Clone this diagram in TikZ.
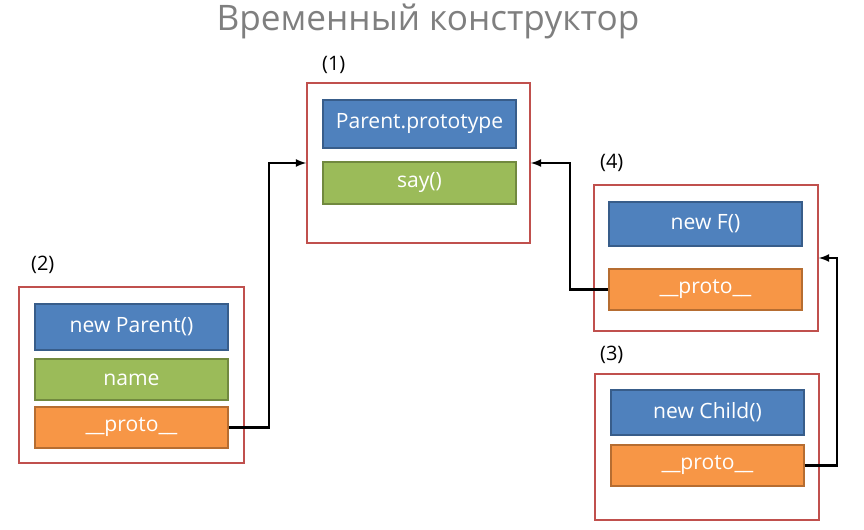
\documentclass[tikz,border=0pt]{standalone}
\usepackage{fontspec}
\setmainfont{Open Sans}
\usepackage{tikz}
\usetikzlibrary{arrows,positioning,calc}
\definecolor{fieldblue}{HTML}{4F81BD}
\definecolor{fieldblueline}{HTML}{385D8A}
\definecolor{fieldgreen}{HTML}{9BBB59}
\definecolor{fieldgreenline}{HTML}{71893F}
\definecolor{fieldorange}{HTML}{F79646}
\definecolor{fieldorangeline}{HTML}{B66D31}
\definecolor{framered}{HTML}{C0504D}
\definecolor{titlegray}{HTML}{7F7F7F}

\begin{document}
\begin{tikzpicture}[x=0.03cm, y=-0.03cm,
  frame/.style={draw=framered, line width=1.4pt, inner sep=0pt},
  field/.style={line width=1.2pt, inner sep=0pt, minimum width=5.79cm, text=white, font=\fontsize{18}{21}\selectfont},
  bluefield/.style={field, fill=fieldblue, draw=fieldblueline},
  greenfield/.style={field, fill=fieldgreen, draw=fieldgreenline},
  orangefield/.style={field, fill=fieldorange, draw=fieldorangeline},
  tag/.style={font=\fontsize{17}{20}\selectfont, anchor=west},
  link/.style={-latex, line width=2pt}]
\useasboundingbox (0,0) rectangle (864,529);
\node[text=titlegray, font=\fontsize{30}{34}\selectfont] (title) at (428,21) {Временный конструктор};

% (1)
\node[frame, minimum width=6.69cm, minimum height=4.8cm] (f1) at (418.5,163) {};
\node[tag] (lbl1) at (318,65) {(1)};
\node[bluefield, minimum height=1.44cm] (pp) at (419.5,124) {Parent.prototype};
\node[greenfield, minimum height=1.26cm] (say) at (419.5,183) {say()};

% (2)
\node[frame, minimum width=6.75cm, minimum height=5.28cm] (f2) at (131.5,375) {};
\node[tag] (lbl2) at (27,265) {(2)};
\node[bluefield, minimum height=1.38cm] (np) at (131.5,327) {new Parent()};
\node[greenfield, minimum height=1.23cm] (name) at (131.5,379.5) {name};
\node[orangefield, minimum height=1.23cm] (pproto) at (131.5,427.5) {\_\_proto\_\_};

% (4)
\node[frame, minimum width=6.72cm, minimum height=4.38cm] (f4) at (706,258) {};
\node[tag] (lbl4) at (596,163) {(4)};
\node[bluefield, minimum height=1.32cm] (nf) at (705.5,224) {new F()};
\node[orangefield, minimum height=1.23cm] (fproto) at (705.5,289.5) {\_\_proto\_\_};

% (3)
\node[frame, minimum width=6.72cm, minimum height=4.38cm] (f3) at (707,447) {};
\node[tag] (lbl3) at (596,355) {(3)};
\node[bluefield, minimum height=1.35cm] (nc) at (707.5,412.5) {new Child()};
\node[orangefield, minimum height=1.23cm] (cproto) at (707.5,465.5) {\_\_proto\_\_};

\draw[link] (pproto.east) -- ++(40,0) |- (f1.west);
\draw[link] (fproto.west) -- ++(-38,0) |- (f1.east);
\draw[link] (cproto.east) -- ++(32,0) |- (f4.east);
\end{tikzpicture}
\end{document}
